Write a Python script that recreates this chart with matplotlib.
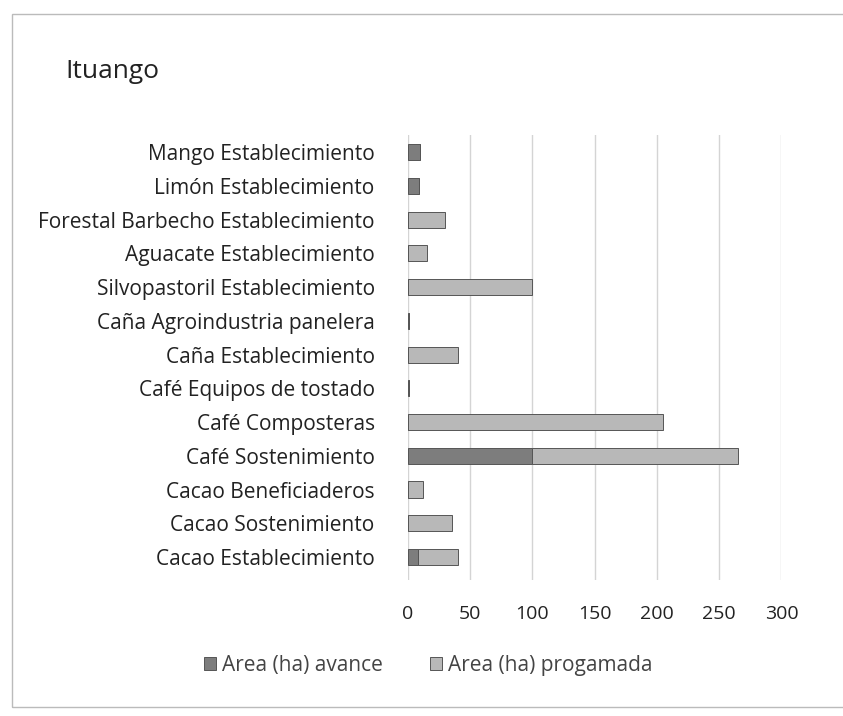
import matplotlib.pyplot as plt
from matplotlib.patches import Rectangle

# data (bottom to top, as drawn)
categories = [
    "Cacao Establecimiento",
    "Cacao Sostenimiento",
    "Cacao Beneficiaderos",
    "Café Sostenimiento",
    "Café Composteras",
    "Café Equipos de tostado",
    "Caña Establecimiento",
    "Caña Agroindustria panelera",
    "Silvopastoril Establecimiento",
    "Aguacate Establecimiento",
    "Forestal Barbecho Establecimiento",
    "Limón Establecimiento",
    "Mango Establecimiento",
]
avance = [8, 0, 0, 100, 0, 1, 0, 1, 0, 0, 0, 9, 10]
programada = [32, 35, 12, 165, 205, 0, 40, 0, 100, 15, 30, 0, 0]
xticks = [0, 50, 100, 150, 200, 250, 300]

plt.rcParams['font.family'] = ['Open Sans', 'DejaVu Sans']

fig = plt.figure(figsize=(8.43, 7.16), dpi=100)
ax = fig.add_axes([0.484, 0.19, 0.443, 0.621])

c_av = "#7d7d7d"
c_pr = "#b8b8b8"
y = list(range(len(categories)))
ax.barh(y, avance, height=0.48, color=c_av, edgecolor="#555555", linewidth=0.7,
        label="Area (ha) avance", zorder=3)
ax.barh(y, programada, left=avance, height=0.48, color=c_pr, edgecolor="#555555",
        linewidth=0.7, label="Area (ha) progamada", zorder=3)

ax.set_xlim(0, 300)
ax.set_ylim(-0.68, 12.5)
ax.set_xticks(xticks)
ax.set_yticks(y)
ax.set_yticklabels(categories, fontsize=15, color="#222222")
ax.tick_params(axis='y', length=0, pad=24)
ax.tick_params(axis='x', length=0, pad=18, labelsize=14, labelcolor="#222222")
ax.grid(axis='x', color="#d4d4d4", linewidth=1)
ax.set_axisbelow(True)
for s in ax.spines.values():
    s.set_visible(False)

fig.text(0.077, 0.9, "Ituango", fontsize=19, color="#222222", va="center")

fig.legend(loc="center", bbox_to_anchor=(0.508, 0.071), ncol=2, frameon=False,
           fontsize=15, handlelength=0.58, handleheight=0.58, handletextpad=0.3,
           columnspacing=2.25, labelcolor="#444444")

fig.patches.append(Rectangle((0.014, 0.013), 0.99, 0.967, transform=fig.transFigure,
                             fill=False, edgecolor="#bbbbbb", linewidth=1))

fig.savefig("out.png", dpi=100)
